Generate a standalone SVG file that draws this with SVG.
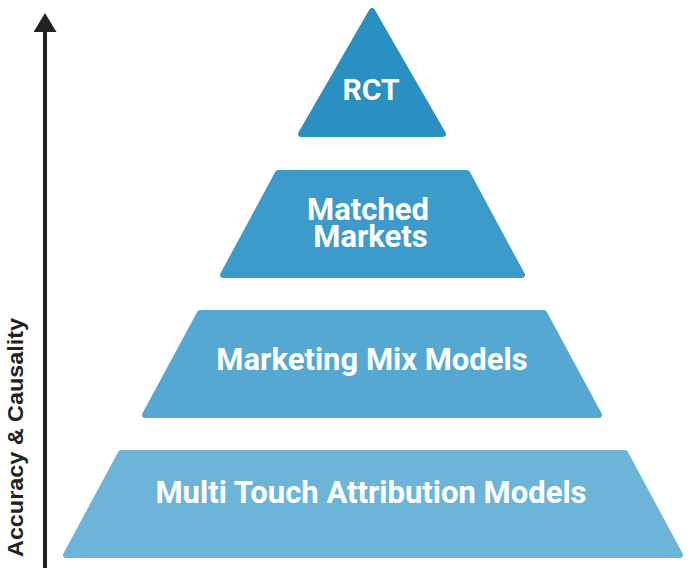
<svg xmlns="http://www.w3.org/2000/svg" width="690" height="568" viewBox="0 0 690 568">
<defs>
<style>
.tier{stroke-width:6;stroke-linejoin:round}
.lbl{font-family:Roboto,"Liberation Sans",sans-serif;font-weight:700;fill:#fff;text-anchor:middle;font-size:31px}
.axis-lbl{font-family:"Liberation Sans",Arial,sans-serif;font-weight:700;fill:#222;font-size:22px}
</style>
<marker id="arrow" viewBox="0 0 19 23" refX="0" refY="11.5" markerWidth="19" markerHeight="23" markerUnits="userSpaceOnUse" orient="auto">
<path d="M0,0 L19,11.5 L0,23 z" fill="#222"/>
</marker>
</defs>
<rect width="690" height="568" fill="#fff"/>
<g id="connectors">
<line x1="45" y1="568" x2="45" y2="32" stroke="#222" stroke-width="4" marker-end="url(#arrow)"/>
</g>
<g id="axis-label">
<text class="axis-lbl" transform="translate(23,557) rotate(-90)" textLength="239" lengthAdjust="spacingAndGlyphs">Accuracy &amp; Causality</text>
</g>
<g id="mta">
<path class="tier" d="M121,453 L625,453 L680,555 L66,555 Z" fill="#6cb5d9" stroke="#6cb5d9"/>
<text class="lbl" x="371" y="503">Multi Touch Attribution Models</text>
</g>
<g id="mmm">
<path class="tier" d="M200,313 L544,313 L599,415 L145,415 Z" fill="#54a8d2" stroke="#54a8d2"/>
<text class="lbl" x="372" y="370">Marketing Mix Models</text>
</g>
<g id="matched">
<path class="tier" d="M278,173 L467,173 L522,275 L223,275 Z" fill="#3d9bcc" stroke="#3d9bcc"/>
<text class="lbl"><tspan x="368" y="220">Matched</tspan><tspan x="370.5" y="247">Markets</tspan></text>
</g>
<g id="rct">
<path class="tier" d="M372,11 L443,134 L301,134 Z" fill="#2a90c2" stroke="#2a90c2"/>
<text class="lbl" x="371" y="100" style="font-size:30px">RCT</text>
</g>
</svg>
